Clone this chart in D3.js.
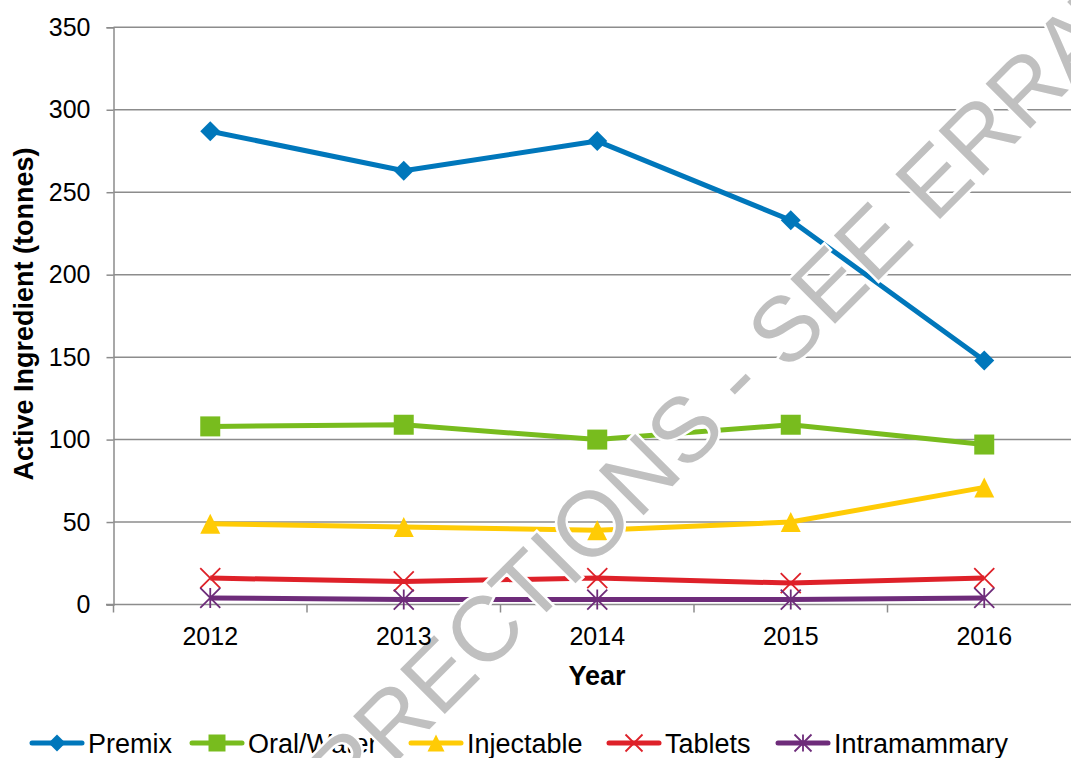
<!DOCTYPE html>
<html>
<head>
<meta charset="utf-8">
<script src="https://cdn.jsdelivr.net/npm/d3@7"></script>
<style>
  html, body { margin: 0; padding: 0; background: #fff; }
  svg { display: block; font-family: "Liberation Sans", Arial, sans-serif; }
</style>
</head>
<body>
<div id="chart"></div>
<script>
'use strict'

// chart data
const years = ["2012", "2013", "2014", "2015", "2016"]
const premix = [287, 263, 281, 233, 148]
const oralWater = [108, 109, 100, 109, 97]
const injectable = [49, 47, 45, 50, 71]
const tablets = [16, 14, 16, 13, 16]
const intramammary = [4, 3, 3, 3, 4]
const yTicks = [0, 50, 100, 150, 200, 250, 300, 350]

const seriesList = [
  {name: "Premix", values: premix, color: "#0077BB", marker: "diamond"},
  {name: "Oral/Water", values: oralWater, color: "#78BC1E", marker: "square"},
  {name: "Injectable", values: injectable, color: "#FFCB05", marker: "triangle"},
  {name: "Tablets", values: tablets, color: "#DE2129", marker: "cross"},
  {name: "Intramammary", values: intramammary, color: "#6E2C7A", marker: "star"}
]

const width = 1071, height = 758

const svg = d3.select("#chart").append("svg")
  .attr("width", width)
  .attr("height", height)

// plot area runs slightly past the right edge of the picture
const x = d3.scaleBand().domain(years).range([113.5, 1081]).padding(0)
const y = d3.scaleLinear().domain([0, 350]).range([604.5, 27.3])

const gridColor = "#8c8c8c"

// horizontal gridlines
svg.append("g")
  .selectAll("line")
  .data(yTicks.filter(d => d > 0))
  .enter().append("line")
    .attr("x1", 113.5).attr("x2", width)
    .attr("y1", d => y(d)).attr("y2", d => y(d))
    .attr("stroke", gridColor)
    .attr("stroke-width", 1.5)

// y axis
const yAxis = svg.append("g")
  .attr("transform", "translate(113.5,0)")
  .call(d3.axisLeft(y).tickValues(yTicks).tickSize(7).tickPadding(16))
yAxis.select(".domain").attr("stroke", gridColor).attr("stroke-width", 1.5)
yAxis.selectAll(".tick line").attr("stroke", gridColor).attr("stroke-width", 1.5)
yAxis.selectAll(".tick text")
  .attr("font-size", 25)
  .attr("font-family", "Liberation Sans, Arial, sans-serif")
  .attr("fill", "#000")

// x axis: baseline plus ticks at category boundaries
svg.append("line")
  .attr("x1", 106).attr("x2", width)
  .attr("y1", y(0)).attr("y2", y(0))
  .attr("stroke", gridColor).attr("stroke-width", 1.5)

svg.append("g")
  .selectAll("line")
  .data(years.concat(["end"]))
  .enter().append("line")
    .attr("x1", (d, i) => x.range()[0] + i * x.bandwidth())
    .attr("x2", (d, i) => x.range()[0] + i * x.bandwidth())
    .attr("y1", y(0)).attr("y2", y(0) + 8)
    .attr("stroke", gridColor).attr("stroke-width", 1.5)

// marker shapes
function markerPath(type, r) {
  if (type == "diamond") return `M0,${-r}L${r},0L0,${r}L${-r},0Z`
  if (type == "square") return `M${-r},${-r}H${r}V${r}H${-r}Z`
  if (type == "triangle") return `M0,${-r}L${r},${r}H${-r}Z`
  if (type == "cross") return `M${-r},${-r}L${r},${r}M${r},${-r}L${-r},${r}`
  return `M${-r},${-r}L${r},${r}M${r},${-r}L${-r},${r}M0,${-r}V${r}`
}
function isFilled(type) {
  return type == "diamond" || type == "square" || type == "triangle"
}

const line = d3.line()
  .x((d, i) => x(years[i]) + x.bandwidth() / 2)
  .y(d => y(d))

const seriesG = svg.append("g")
  .selectAll("g")
  .data(seriesList)
  .enter().append("g")

seriesG.append("path")
  .attr("d", d => line(d.values))
  .attr("fill", "none")
  .attr("stroke", d => d.color)
  .attr("stroke-width", 5)
  .attr("stroke-linejoin", "round")

seriesG.each(function(s) {
  d3.select(this).selectAll(".mark")
    .data(s.values)
    .enter().append("path")
      .attr("class", "mark")
      .attr("transform", (d, i) => "translate(" + (x(years[i]) + x.bandwidth() / 2) + "," + y(d) + ")")
      .attr("d", markerPath(s.marker, 10))
      .attr("fill", isFilled(s.marker) ? s.color : "none")
      .attr("stroke", s.color)
      .attr("stroke-width", isFilled(s.marker) ? 0 : 1.8)
})

// legend
const legendX = [30, 190, 409, 607, 776]
const legend = svg.append("g")
  .selectAll("g")
  .data(seriesList)
  .enter().append("g")
    .attr("transform", (d, i) => "translate(" + legendX[i] + ",743)")

legend.append("line")
  .attr("x1", 2).attr("x2", 52)
  .attr("stroke", d => d.color)
  .attr("stroke-width", 5)
  .attr("stroke-linecap", "round")

legend.append("path")
  .attr("transform", "translate(27,0)")
  .attr("d", d => markerPath(d.marker, 8.5))
  .attr("fill", d => isFilled(d.marker) ? d.color : "none")
  .attr("stroke", d => d.color)
  .attr("stroke-width", d => isFilled(d.marker) ? 0 : 1.8)

legend.append("text")
  .attr("x", 58).attr("y", 9.5)
  .attr("font-size", 27)
  .text(d => d.name)

// watermark
svg.append("text")
  .attr("transform", "translate(695,417) rotate(-45)")
  .attr("text-anchor", "middle")
  .attr("dy", "0.36em")
  .attr("font-size", 92)
  .attr("fill", "#c0c0c0")
  .attr("stroke", "#fff")
  .attr("stroke-width", 5)
  .attr("paint-order", "stroke")
  .text("CORRECTIONS - SEE ERRATA")

// tick labels and axis titles sit above the watermark
svg.append("g")
  .selectAll("text")
  .data(years)
  .enter().append("text")
    .attr("x", d => x(d) + x.bandwidth() / 2)
    .attr("y", 645)
    .attr("text-anchor", "middle")
    .attr("font-size", 25)
    .text(d => d)

svg.append("text")
  .attr("x", 597).attr("y", 685)
  .attr("text-anchor", "middle")
  .attr("font-size", 27)
  .attr("font-weight", "bold")
  .text("Year")

svg.append("text")
  .attr("transform", "translate(33,314) rotate(-90)")
  .attr("text-anchor", "middle")
  .attr("font-size", 27)
  .attr("font-weight", "bold")
  .text("Active Ingredient (tonnes)")
</script>
</body>
</html>
